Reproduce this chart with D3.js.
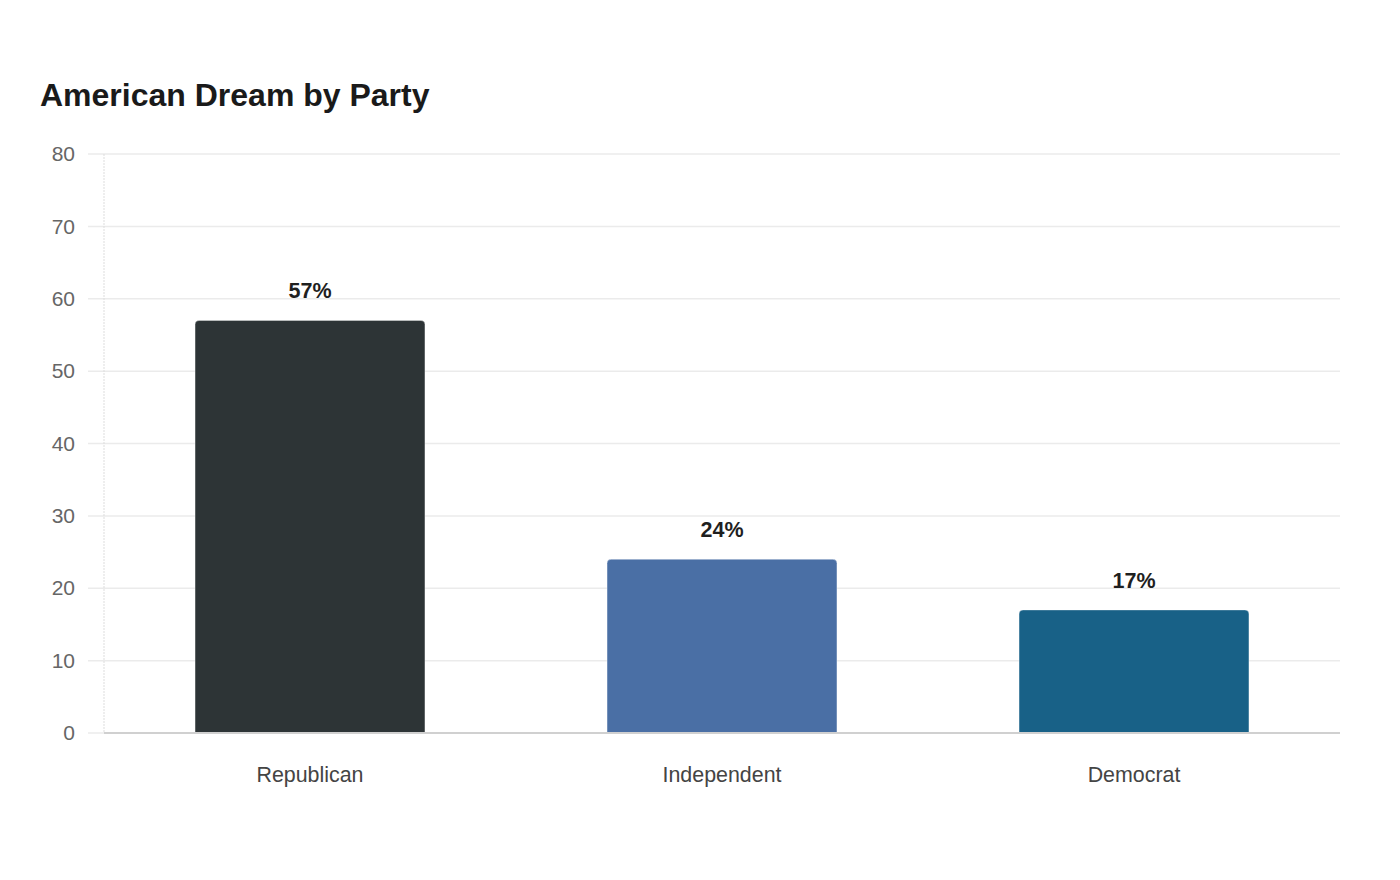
<!DOCTYPE html>
<html>
<head>
<meta charset="utf-8">
<script src="https://cdn.jsdelivr.net/npm/d3@7"></script>
<style>
  html, body { margin: 0; padding: 0; background: #fff; }
  svg { display: block; font-family: "Liberation Sans", Arial, sans-serif; }
</style>
</head>
<body>
<svg id="chart" width="1400" height="880"></svg>
<script>
const title = "American Dream by Party";
const categories = ["Republican", "Independent", "Democrat"];
const values = [57, 24, 17];
const colors = ["#2d3436", "#4a6fa5", "#186187"];
const yTicks = [0, 10, 20, 30, 40, 50, 60, 70, 80];

const svg = d3.select("#chart");
const margin = { left: 104, right: 60, top: 154, bottom: 147 };
const W = 1400, H = 880;
const x0 = margin.left, x1 = W - margin.right;
const yTop = margin.top, yBot = H - margin.bottom;

svg.append("rect").attr("width", W).attr("height", H).attr("fill", "#fff");

svg.append("text")
  .attr("x", 40).attr("y", 106)
  .attr("font-size", 32).attr("font-weight", "bold")
  .attr("fill", "#1a1a1a")
  .text(title);

const x = d3.scaleBand().domain(categories).range([x0, x1]).paddingInner(0.442).paddingOuter(0.221);
const y = d3.scaleLinear().domain([0, 80]).range([yBot, yTop]);

// gridlines
svg.append("g").selectAll("line").data(yTicks.filter(d => d > 0)).join("line")
  .attr("x1", 88).attr("x2", x1)
  .attr("y1", d => y(d)).attr("y2", d => y(d))
  .attr("stroke", "#ebebeb").attr("stroke-width", 1.5);

// y axis line (dotted light)
svg.append("line")
  .attr("x1", x0).attr("x2", x0).attr("y1", yTop).attr("y2", yBot)
  .attr("stroke", "#dddddd").attr("stroke-width", 1).attr("stroke-dasharray", "2,1");

// y tick labels
const yAxis = d3.axisLeft(y).tickValues(yTicks).tickSize(0).tickPadding(29);
const gy = svg.append("g").attr("transform", `translate(${x0},0)`).call(yAxis);
gy.select(".domain").remove();
gy.selectAll("text").attr("font-size", 21).attr("fill", "#666")
  .attr("font-family", "Liberation Sans, Arial, sans-serif");

// bars with rounded top corners
function topRounded(xp, yp, w, h, r) {
  return `M${xp},${yp + h} L${xp},${yp + r} Q${xp},${yp} ${xp + r},${yp} L${xp + w - r},${yp} Q${xp + w},${yp} ${xp + w},${yp + r} L${xp + w},${yp + h} Z`;
}
svg.append("g").selectAll("path").data(categories).join("path")
  .attr("d", (c, i) => topRounded(x(c), y(values[i]), x.bandwidth(), yBot - y(values[i]), 4))
  .attr("fill", (c, i) => colors[i])
  .attr("stroke", "rgba(255,255,255,0.35)").attr("stroke-width", 1);

// value labels
svg.append("g").selectAll("text").data(categories).join("text")
  .attr("x", c => x(c) + x.bandwidth() / 2)
  .attr("y", (c, i) => y(values[i]) - 22)
  .attr("text-anchor", "middle")
  .attr("font-size", 21.5).attr("font-weight", "bold").attr("fill", "#1f1f1f")
  .text((c, i) => values[i] + "%");

// zero tick stub & x axis line
svg.append("line").attr("x1", 88).attr("x2", x0).attr("y1", yBot).attr("y2", yBot)
  .attr("stroke", "#ebebeb").attr("stroke-width", 1.5);
svg.append("line").attr("x1", x0).attr("x2", x1).attr("y1", yBot).attr("y2", yBot)
  .attr("stroke", "#d0d0d0").attr("stroke-width", 2);

// x category labels
const xAxis = d3.axisBottom(x).tickSize(0).tickPadding(34);
const gx = svg.append("g").attr("transform", `translate(0,${yBot})`).call(xAxis);
gx.select(".domain").remove();
gx.selectAll("text").attr("font-size", 21.4).attr("fill", "#444")
  .attr("font-family", "Liberation Sans, Arial, sans-serif");
</script>
</body>
</html>
